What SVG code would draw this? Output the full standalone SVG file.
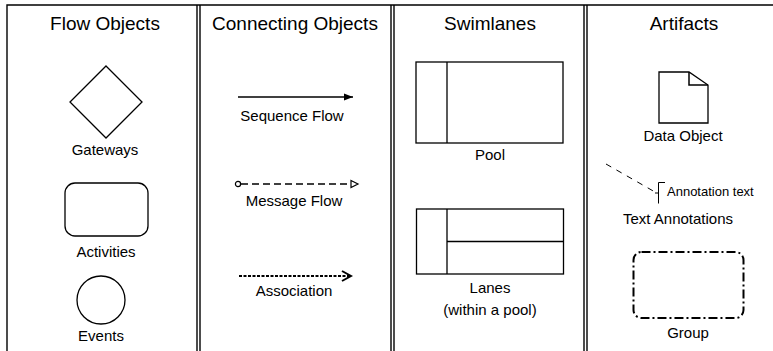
<svg xmlns="http://www.w3.org/2000/svg" width="773" height="351" viewBox="0 0 773 351">
<defs>
<style>
.frame{fill:none;stroke:#000;stroke-width:1.4}
.shape{fill:#fff;stroke:#000;stroke-width:1.3}
.title{font-family:"Liberation Sans",Arial,sans-serif;font-size:19px;fill:#000;text-anchor:middle}
.lbl{font-family:"Liberation Sans",Arial,sans-serif;font-size:15px;fill:#000;text-anchor:middle}
.small{font-family:"Liberation Sans",Arial,sans-serif;font-size:13px;fill:#000}
</style>
<marker id="seqHead" markerWidth="10" markerHeight="8" refX="9" refY="4" orient="auto" markerUnits="userSpaceOnUse">
<path d="M0,0.5 L9,4 L0,7.5 Z" fill="#000"/>
</marker>
<marker id="msgHead" markerWidth="12" markerHeight="10" refX="1" refY="5" orient="auto" markerUnits="userSpaceOnUse">
<path d="M1,1.5 L8,5 L1,8.5 Z" fill="#fff" stroke="#000" stroke-width="1.2"/>
</marker>
<marker id="msgTail" markerWidth="8" markerHeight="8" refX="7" refY="4" orient="auto" markerUnits="userSpaceOnUse">
<circle cx="4" cy="4" r="2.6" fill="#fff" stroke="#000" stroke-width="1.2"/>
</marker>
<marker id="assocHead" markerWidth="12" markerHeight="12" refX="10" refY="6" orient="auto" markerUnits="userSpaceOnUse">
<path d="M1,1 L10,6 L1,11" fill="none" stroke="#000" stroke-width="2"/>
</marker>
</defs>

<g id="frame">
<path class="frame" d="M7,351 V5 H773"/>
<line class="frame" x1="197" y1="5" x2="197" y2="351"/>
<line class="frame" x1="200" y1="5" x2="200" y2="351"/>
<line class="frame" x1="391" y1="5" x2="391" y2="351"/>
<line class="frame" x1="394" y1="5" x2="394" y2="351"/>
<line class="frame" x1="584" y1="5" x2="584" y2="351"/>
<line class="frame" x1="587" y1="5" x2="587" y2="351"/>
<text class="title" x="105" y="30">Flow Objects</text>
<text class="title" x="295" y="30">Connecting Objects</text>
<text class="title" x="490" y="30">Swimlanes</text>
<text class="title" x="684" y="30">Artifacts</text>
</g>

<g id="gateway">
<polygon class="shape" points="106,66 142,102 106,138 70,102"/>
<text class="lbl" x="105" y="155">Gateways</text>
</g>
<g id="activity">
<rect class="shape" x="65" y="183" width="83" height="53" rx="10" ry="10"/>
<text class="lbl" x="106" y="257">Activities</text>
</g>
<g id="event">
<circle class="shape" cx="101" cy="300" r="24"/>
<text class="lbl" x="101" y="341">Events</text>
</g>

<g id="connectors">
<line x1="238" y1="97" x2="353" y2="97" stroke="#000" stroke-width="1.3" marker-end="url(#seqHead)"/>
<line x1="241" y1="184" x2="351" y2="184" stroke="#000" stroke-width="1.4" stroke-dasharray="7,4" marker-start="url(#msgTail)" marker-end="url(#msgHead)"/>
<line x1="239" y1="276" x2="351" y2="276" stroke="#000" stroke-width="2" stroke-dasharray="3,1.5" marker-end="url(#assocHead)"/>
</g>
<g id="connector-labels">
<text class="lbl" x="292" y="121">Sequence Flow</text>
<text class="lbl" x="294" y="206">Message Flow</text>
<text class="lbl" x="294" y="296">Association</text>
</g>

<g id="pool">
<rect class="shape" x="416" y="62" width="147" height="81"/>
<line class="shape" x1="447" y1="62" x2="447" y2="143"/>
<text class="lbl" x="490" y="160">Pool</text>
</g>
<g id="lanes">
<rect class="shape" x="416.5" y="209" width="147" height="65"/>
<line class="shape" x1="447" y1="209" x2="447" y2="274"/>
<line class="shape" x1="447" y1="241.5" x2="563.5" y2="241.5"/>
<text class="lbl" x="490" y="293">Lanes</text>
<text class="lbl" x="490" y="315">(within a pool)</text>
</g>

<g id="data-object">
<path class="shape" d="M659,72 H689 L708,85 V123 H659 Z"/>
<path d="M689,72 V85 H708" fill="none" stroke="#000" stroke-width="1.5"/>
<text class="lbl" x="683" y="141">Data Object</text>
</g>
<g id="text-annotation">
<line x1="606" y1="164" x2="655" y2="192" stroke="#000" stroke-width="1" stroke-dasharray="6,6"/>
<path d="M665,182.5 H658.5 V203.5 M658.5,193 H655" fill="none" stroke="#000" stroke-width="1"/>
<text class="small" x="667" y="196">Annotation text</text>
<text class="lbl" x="678" y="224">Text Annotations</text>
</g>
<g id="group">
<rect x="633.5" y="252" width="110" height="66" rx="8" ry="8" fill="none" stroke="#000" stroke-width="2" stroke-dasharray="9,3,2,3"/>
<text class="lbl" x="688" y="338">Group</text>
</g>
</svg>
